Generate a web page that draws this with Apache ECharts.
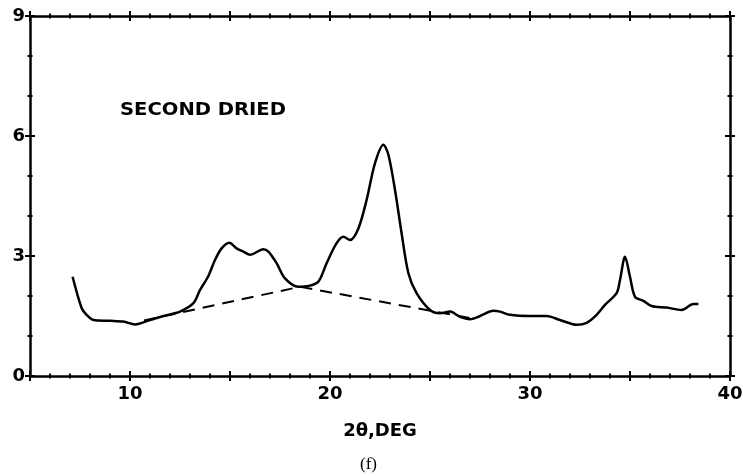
<!DOCTYPE html>
<html>
<head>
<meta charset="utf-8">
<script src="https://cdn.jsdelivr.net/npm/echarts@6/dist/echarts.min.js"></script>
<style>html,body{margin:0;padding:0;background:#fff}#c{width:743px;height:476px}</style>
</head>
<body>
<div id="c"></div>
<script>
// ---- data ----
const curveX = [7.13,7.58,7.83,8.17,9.0,9.67,10.25,11.0,11.67,12.5,13.17,13.5,13.9,14.25,14.58,14.97,15.33,15.67,16.0,16.67,16.92,17.33,17.75,18.42,18.92,19.42,19.83,20.33,20.67,21.0,21.42,21.83,22.25,22.67,22.92,23.25,23.58,23.92,24.33,25.0,25.5,26.0,26.5,27.0,27.5,28.17,28.5,29.0,30.0,30.83,31.5,32.33,32.83,33.33,33.75,34.33,34.5,34.75,35.0,35.25,35.67,36.08,36.83,37.58,38.17,38.42];
const curveY = [2.48,1.70,1.53,1.40,1.38,1.36,1.29,1.40,1.50,1.61,1.82,2.15,2.48,2.90,3.19,3.33,3.19,3.11,3.03,3.17,3.11,2.82,2.44,2.23,2.25,2.36,2.82,3.32,3.48,3.40,3.69,4.40,5.32,5.78,5.53,4.65,3.57,2.57,2.07,1.65,1.57,1.61,1.48,1.42,1.50,1.63,1.61,1.53,1.50,1.50,1.40,1.28,1.33,1.53,1.78,2.07,2.40,2.98,2.48,1.98,1.88,1.75,1.71,1.65,1.80,1.80];
const baseX = [10.7,18.5,27.0];
const baseY = [1.39,2.23,1.45];
const xLabelVals = [10,20,30,40];
const yLabelVals = [0,3,6,9];
const sampleLabel = 'SECOND DRIED';
const xName = '2θ,DEG';
const panelLabel = '(f)';

const FONT = 'DejaVu Sans';
const chart = echarts.init(document.getElementById('c'), null, {renderer:'canvas'});

function xa(position, inside, showLabel, showLine) {
  return {
    type:'value', min:5, max:40, interval:5, position: position,
    axisLine:{show:showLine, onZero:false, lineStyle:{color:'#000', width:2.5}},
    axisTick:{show:true, inside:inside, length:5, lineStyle:{color:'#000', width:2}},
    minorTick:{show:true, splitNumber:5, length:2.5, lineStyle:{color:'#000', width:2}},
    axisLabel:{show:showLabel, customValues:xLabelVals, margin:9, color:'#000',
      fontFamily:FONT, fontWeight:'bold', fontSize:18},
    splitLine:{show:false},
    name: showLabel ? xName : '', nameLocation:'middle', nameGap:46,
    nameTextStyle:{color:'#000', fontFamily:FONT, fontWeight:'bold', fontSize:18}
  };
}
function ya(position, inside, showLabel, showLine) {
  return {
    type:'value', min:0, max:9, interval:3, position: position,
    axisLine:{show:showLine, onZero:false, lineStyle:{color:'#000', width:2.5}},
    axisTick:{show:true, inside:inside, length:5, lineStyle:{color:'#000', width:2}},
    minorTick:{show:true, splitNumber:3, length:2.5, lineStyle:{color:'#000', width:2}},
    axisLabel:{show:showLabel, customValues:yLabelVals, margin:5, color:'#000',
      fontFamily:FONT, fontWeight:'bold', fontSize:18},
    splitLine:{show:false}
  };
}

const option = {
  backgroundColor:'#fff',
  animation:false,
  grid:{left:30, right:13, top:16, bottom:100, containLabel:false, outerBoundsMode:'none'},
  xAxis:[xa('bottom',false,true,true), xa('bottom',true,false,false), xa('top',false,false,true), xa('top',true,false,false)],
  yAxis:[ya('left',false,true,true), ya('left',true,false,false), ya('right',false,false,true), ya('right',true,false,false)],
  series:[
    {type:'line', data: curveX.map((x,i)=>[x,curveY[i]]), showSymbol:false, smooth:0.3,
     lineStyle:{color:'#000', width:2.5}, z:3},
    {type:'line', data: baseX.map((x,i)=>[x,baseY[i]]), showSymbol:false,
     lineStyle:{color:'#000', width:2, type:[12,8]}, z:2}
  ],
  graphic:[
    {type:'text', x:120, y:102, scaleX:1.15, style:{text:sampleLabel, fill:'#000',
      font:'bold 17px "DejaVu Sans"'}},
    {type:'text', left:360, top:456, style:{text:panelLabel, fill:'#000',
      font:'17px "Liberation Serif"'}}
  ]
};
chart.setOption(option);
</script>
</body>
</html>
